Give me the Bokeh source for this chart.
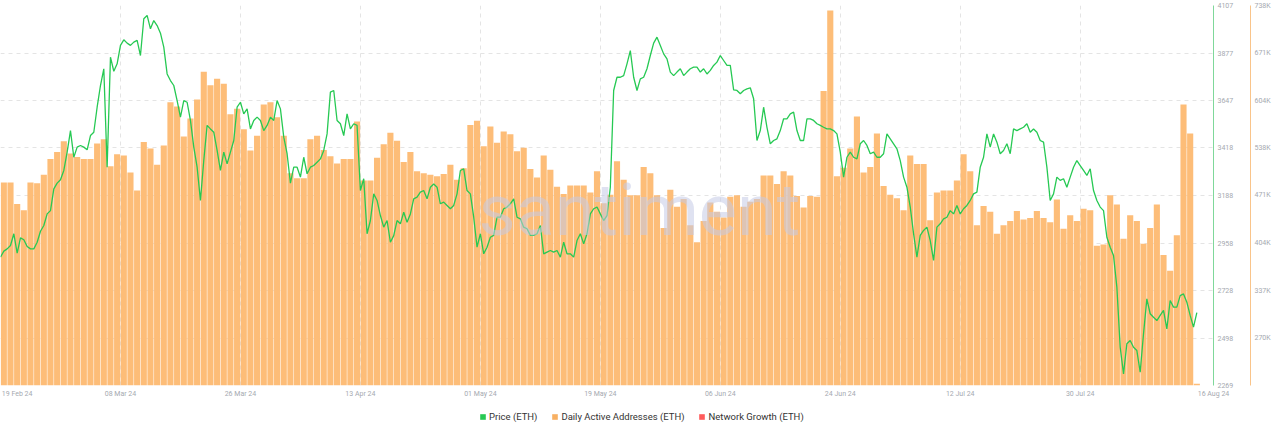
from bokeh.plotting import figure
from bokeh.layouts import column
from bokeh.models import Range1d, LinearAxis, FixedTicker, Legend, LegendItem, Label
from bokeh.embed import file_html
from bokeh.resources import INLINE

# ---------------- data ----------------
date_labels = ["19 Feb 24", "08 Mar 24", "26 Mar 24", "13 Apr 24", "01 May 24", "19 May 24",
               "06 Jun 24", "24 Jun 24", "12 Jul 24", "30 Jul 24", "16 Aug 24"]
date_offsets = [0, 18, 36, 54, 72, 90, 108, 126, 144, 162, 179]   # days after 19 Feb 24

price_ticks = [2269, 2498, 2728, 2958, 3188, 3418, 3647, 3877, 4107]
daa_tick_k = [270, 337, 404, 471, 538, 604, 671, 738]
daa_tick_labels = ["270K", "337K", "404K", "471K", "538K", "604K", "671K", "738K"]
daa_min_k, daa_max_k = 203.4, 738.2

# ETH price, one reading every 12 hours from 19 Feb 24 00:00
price_eth = [
    2890, 2919, 2930, 2946, 3003, 2909, 2983, 2974, 2941, 2930,
    2930, 2962, 3015, 3043, 3099, 3115, 3220, 3248, 3264, 3309,
    3398, 3502, 3373, 3422, 3430, 3422, 3409, 3478, 3494, 3615,
    3720, 3801, 3325, 3857, 3789, 3825, 3914, 3941, 3925, 3914,
    3930, 3938, 3865, 4043, 4059, 3994, 4034, 4010, 3973, 3906,
    3776, 3744, 3720, 3647, 3567, 3647, 3639, 3551, 3422, 3325,
    3164, 3357, 3527, 3510, 3494, 3406, 3309, 3398, 3341, 3398,
    3454, 3615,
    3639, 3583, 3607, 3510, 3551, 3567, 3551, 3502, 3527, 3567,
    3551, 3647, 3607, 3470, 3390, 3248, 3325, 3325, 3277, 3373,
    3293, 3325, 3333, 3349, 3365, 3406, 3486, 3688, 3696, 3551,
    3535, 3478, 3583, 3510, 3535, 3527, 3212, 3269, 3003, 3067,
    3196, 3164, 3091, 3035, 3067, 2962, 2994, 3067, 3051, 3107,
    3059, 3099, 3172, 3180, 3204, 3212, 3172, 3228, 3244, 3228,
    3148, 3156, 3140, 3124, 3140, 3196, 3309, 3317, 3212, 3196,
    3083, 2938,
    3003, 2906, 2938, 2986, 2995, 3083, 3083, 3124, 3132, 3148,
    3172, 3083, 3075, 3035, 3027, 2995, 2995, 3003, 3043, 2906,
    2914, 2922, 2914, 2922, 2890, 2962, 2906, 2906, 2890, 2970,
    3003, 2954, 3003, 3099, 3124, 3132, 3099, 3067, 3091, 3228,
    3696, 3760, 3760, 3768, 3825, 3889, 3760, 3696, 3752, 3760,
    3801, 3865, 3925, 3954, 3914, 3873, 3849, 3785, 3768, 3785,
    3801, 3768, 3785, 3801, 3809, 3809, 3785, 3801, 3776, 3793,
    3817, 3833,
    3865, 3841, 3817, 3817, 3699, 3696, 3680, 3696, 3704, 3709,
    3656, 3454, 3502, 3615, 3518, 3438, 3454, 3462, 3502, 3559,
    3559, 3583, 3591, 3502, 3454, 3454, 3559, 3559, 3551, 3535,
    3527, 3518, 3510, 3510, 3502, 3486, 3398, 3277, 3373, 3398,
    3373, 3365, 3438, 3454, 3430, 3390, 3398, 3373, 3373, 3390,
    3486, 3462, 3438, 3414, 3357, 3277, 3228, 3132, 3003, 2890,
    2995, 3019, 3035, 2970, 2874, 3035, 3051, 3075, 3083, 3115,
    3099, 3140,
    3099, 3124, 3140, 3164, 3196, 3204, 3325, 3373, 3486, 3422,
    3486, 3446, 3390, 3406, 3438, 3390, 3510, 3502, 3510, 3518,
    3535, 3494, 3510, 3494, 3454, 3446, 3325, 3164, 3196, 3277,
    3261, 3269, 3228, 3277, 3325, 3357, 3333, 3309, 3285, 3317,
    3212, 3164, 3132, 3115, 2986, 2938, 2898, 2745, 2454, 2325,
    2471, 2487, 2454, 2438, 2333, 2519, 2688, 2616, 2599, 2583,
    2608, 2632, 2543, 2680, 2648, 2648, 2704, 2712, 2672, 2608,
    2551, 2621,
]

# Daily active addresses (thousands), one per day from 19 Feb 24
daily_active_k = [
    489, 489, 459, 450, 489, 488, 500, 522, 532, 547, 530, 525, 522, 522, 544, 550, 512, 529,
    527, 503, 478, 546, 537, 514, 541, 602, 596, 554, 579, 606, 645, 626, 635, 628, 585, 593,
    564, 534, 555, 599, 602, 581, 555, 502, 495, 495, 550, 555, 535, 526, 516, 522, 522, 575,
    492, 492, 524, 543, 559, 548, 518, 532, 505, 502, 500, 498, 501, 514, 493, 509, 570, 576,
    540, 568, 545, 561, 557, 533, 538, 508, 496, 527, 507, 483, 473, 485, 485, 485, 475, 505,
    460, 472, 519, 493, 471, 471, 511, 502, 471, 425, 479, 455, 466, 429, 405, 435, 461, 448,
    440, 469, 471, 455, 462, 466, 499, 499, 487, 505, 499, 470, 454, 470, 469, 618, 731, 498,
    510, 537, 582, 503, 511, 558, 484, 472, 467, 450, 527, 515, 515, 436, 475, 478, 478, 492,
    529, 505, 429, 456, 448, 417, 429, 435, 449, 437, 439, 449, 439, 433, 465, 424, 443, 435,
    452, 450, 400, 402, 471, 458, 410, 443, 435, 403, 425, 458, 387, 365, 415, 599, 558, 206,
]

legend_labels = ["Price (ETH)", "Daily Active Addresses (ETH)", "Network Growth (ETH)"]

# ---------------- styles ----------------
GREEN = "#26C953"
ORANGE = "#FDBD78"
RED = "#FF5B5B"
TICK_COLOR = "#a5a9b0"
GRID_COLOR = "#e4e4e4"
FONT = "Roboto"

W = 1275
H_MAIN, H_LEG = 400, 30
FRAME_W = 1213
TOP, BOTTOM = 5, 15
X_END_H = 182 * 24          # x units are hours after 19 Feb 24 00:00

bar_x = [24 * i + 12 for i in range(len(daily_active_k))]
daa = [v * 1000 for v in daily_active_k]
price_x = [12 * k for k in range(len(price_eth))]

p = figure(width=W, height=H_MAIN,
           x_range=Range1d(0, X_END_H),
           y_range=Range1d(price_ticks[0], price_ticks[-1]),
           y_axis_location="right",
           output_backend="svg", toolbar_location=None,
           min_border_left=0, min_border_right=W - FRAME_W,
           min_border_top=TOP, min_border_bottom=BOTTOM)
p.extra_y_ranges = {"daa": Range1d(daa_min_k * 1000, daa_max_k * 1000)}
p.outline_line_color = None
p.background_fill_color = "white"
p.border_fill_color = "white"

# bars
p.vbar(x=bar_x, top=daa, bottom=daa_min_k * 1000, width=24 * 0.92,
       y_range_name="daa", fill_color=ORANGE, line_color=None)

# watermark
p.add_layout(Label(x=478, y=175, x_units="screen", y_units="screen", text="santiment",
                   text_font=FONT, text_font_size="72px", text_color="#c5cbe6",
                   text_alpha=0.55, text_baseline="alphabetic", text_align="left"))

# price line
p.line(price_x, price_eth, line_color=GREEN, line_width=1.3)

# ---- grids ----
p.xgrid.ticker = FixedTicker(ticks=[d * 24 for d in date_offsets[:-1]])
p.ygrid.ticker = FixedTicker(ticks=price_ticks)
for g in (p.xgrid[0], p.ygrid[0]):
    g.grid_line_color = GRID_COLOR
    g.grid_line_dash = "4 4"
    g.grid_line_width = 1

# ---- x axis ----
axis_pos = [d * 24 for d in date_offsets]
axis_pos[0] = 60            # first label nudged inside the frame
axis_pos[-1] = X_END_H      # last label sits at the right edge
xa = p.xaxis[0]
xa.ticker = FixedTicker(ticks=axis_pos)
xa.major_label_overrides = {pos: lab for pos, lab in zip(axis_pos, date_labels)}
xa.axis_line_color = None
xa.major_tick_line_color = None
xa.minor_tick_line_color = None
xa.major_tick_out = 0
xa.major_tick_in = 0
xa.major_label_standoff = 4
xa.major_label_text_font = FONT
xa.major_label_text_font_size = "7px"
xa.major_label_text_color = TICK_COLOR

# ---- price axis (right, inner) ----
ya = p.yaxis[0]
ya.ticker = FixedTicker(ticks=price_ticks)
ya.axis_line_color = "#7fd89a"
ya.axis_line_width = 1
ya.major_tick_line_color = None
ya.minor_tick_line_color = None
ya.major_tick_out = 0
ya.major_tick_in = 0
ya.major_label_standoff = 4
ya.major_label_text_font = FONT
ya.major_label_text_font_size = "7px"
ya.major_label_text_color = TICK_COLOR
ya.axis_label = " "
ya.axis_label_text_font_size = "10px"
ya.axis_label_standoff = 0

# ---- DAA axis (right, outer) ----
daa_ticks = [v * 1000 for v in daa_tick_k]
da = LinearAxis(y_range_name="daa", ticker=FixedTicker(ticks=daa_ticks),
                major_label_overrides={t: lab for t, lab in zip(daa_ticks, daa_tick_labels)})
da.axis_line_color = "#f9c48a"
da.major_tick_line_color = None
da.minor_tick_line_color = None
da.major_tick_out = 0
da.major_tick_in = 0
da.major_label_standoff = 4
da.major_label_text_font = FONT
da.major_label_text_font_size = "7px"
da.major_label_text_color = TICK_COLOR
p.add_layout(da, "right")

# ---- last-value badges ----
p.add_layout(Label(x=FRAME_W + 2, y=price_eth[-1], x_units="screen", y_units="data",
                   text=str(price_eth[-1]), text_font=FONT, text_font_size="7px",
                   text_font_style="bold", text_color="white",
                   background_fill_color=GREEN, text_baseline="middle", text_align="left",
                   padding=1))
p.add_layout(Label(x=FRAME_W + 35, y=daa[-1], x_units="screen", y_units="data",
                   y_range_name="daa", text=f"{daily_active_k[-1]}K", text_font=FONT,
                   text_font_size="7px", text_font_style="bold", text_color="#3d3d3d",
                   background_fill_color="#F6B264", text_baseline="middle", text_align="left",
                   padding=1))

# ---- legend strip (separate small figure under the chart) ----
pl = figure(width=W, height=H_LEG, x_range=Range1d(0, 1), y_range=Range1d(0, 1),
            x_axis_location=None, y_axis_location=None,
            output_backend="svg", toolbar_location=None,
            min_border_left=0, min_border_right=0, min_border_top=0, min_border_bottom=0)
pl.outline_line_color = None
pl.grid.grid_line_color = None
pl.background_fill_color = "white"
pl.border_fill_color = "white"
# legend handles: zero-height swatches outside the strip's range, so only the legend shows them
handles = [pl.vbar(x=[-5], top=[-1], bottom=[-1], width=0.1, fill_color=c, line_color=None)
           for c in (GREEN, "#F8B062", RED)]
legend = Legend(items=[LegendItem(label=lab, renderers=[r]) for lab, r in zip(legend_labels, handles)],
                orientation="horizontal", location=(479, 8),
                glyph_width=7, glyph_height=7, label_height=12, label_width=10,
                label_standoff=3, spacing=14, padding=0, margin=0,
                border_line_color=None, background_fill_alpha=0,
                label_text_font=FONT, label_text_font_size="9.5px",
                label_text_color="#333333")
pl.add_layout(legend)

layout = column(p, pl, spacing=0)
open("out.html", "w").write(file_html(layout, INLINE))
